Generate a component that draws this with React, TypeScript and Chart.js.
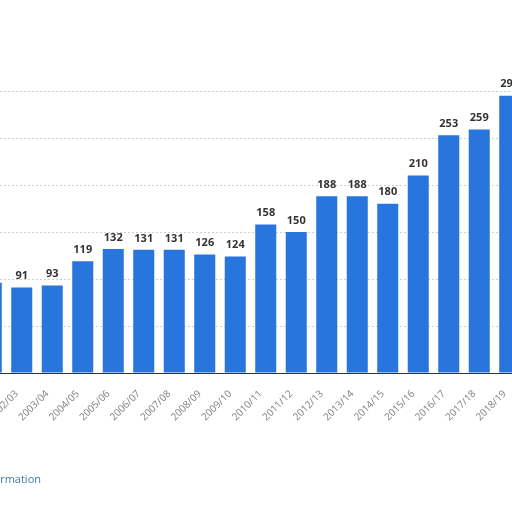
import React, { useEffect, useRef } from 'react';
import { Chart, registerables } from 'chart.js';

Chart.register(...registerables);

// Seasons shown on the x axis (first and last bars are partly cut off)
const seasons = [
  '2001/02', '2002/03', '2003/04', '2004/05', '2005/06', '2006/07',
  '2007/08', '2008/09', '2009/10', '2010/11', '2011/12', '2012/13',
  '2013/14', '2014/15', '2015/16', '2016/17', '2017/18', '2018/19',
];
const values = [96, 91, 93, 119, 132, 131, 131, 126, 124, 158, 150, 188, 188, 180, 210, 253, 259, 295];
const yTicks = [0, 50, 100, 150, 200, 250, 300];

const BAR_BLUE = '#2876dd';

// draws the value above each bar
const valueLabels = {
  id: 'valueLabels',
  afterDatasetsDraw(chart: Chart) {
    const ctx = chart.ctx;
    const meta = chart.getDatasetMeta(0);
    ctx.save();
    ctx.font = 'bold 11px "Open Sans", sans-serif';
    ctx.fillStyle = '#333333';
    ctx.textAlign = 'center';
    ctx.textBaseline = 'bottom';
    meta.data.forEach((bar: any, i: number) => {
      ctx.fillText(String(values[i]), bar.x, bar.y - 6);
    });
    ctx.restore();
  },
};

const App: React.FC = () => {
  const canvasRef = useRef<HTMLCanvasElement>(null);
  const chartRef = useRef<Chart | null>(null);

  useEffect(() => {
    if (!canvasRef.current) return;
    if (chartRef.current) chartRef.current.destroy();

    chartRef.current = new Chart(canvasRef.current, {
      type: 'bar',
      data: {
        labels: seasons,
        datasets: [{
          data: values,
          backgroundColor: BAR_BLUE,
          barPercentage: 0.69,
          categoryPercentage: 1,
        }],
      },
      options: {
        responsive: true,
        maintainAspectRatio: false,
        animation: false,
        layout: { padding: { left: 36, right: 35, top: 91, bottom: 79 } },
        plugins: {
          legend: { display: false },
          tooltip: { enabled: false },
        },
        scales: {
          x: {
            grid: { display: false, drawTicks: false },
            border: { display: true, color: '#333333', width: 1 },
            ticks: {
              color: '#808080',
              font: { family: '"Open Sans", sans-serif', size: 10 },
              minRotation: 45,
              maxRotation: 45,
              autoSkip: false,
              padding: 15,
              labelOffset: -5,
            },
            afterFit: (scale: any) => { scale.height = 60; },
          },
          y: {
            min: yTicks[0],
            max: yTicks[yTicks.length - 1],
            afterBuildTicks: (scale: any) => {
              scale.ticks = yTicks.map(v => ({ value: v }));
            },
            ticks: { display: false },
            grid: { color: '#cfcfcf', drawTicks: false },
            border: { display: false, dash: [2, 2] },
            afterFit: (scale: any) => { scale.width = 0; },
          },
        },
      },
      plugins: [valueLabels],
    });

    return () => {
      if (chartRef.current) {
        chartRef.current.destroy();
        chartRef.current = null;
      }
    };
  }, []);

  return (
    <div style={{ position: 'fixed', left: 0, top: 0, width: 512, height: 512, overflow: 'hidden', background: '#ffffff' }}>
      <div style={{ position: 'absolute', left: -60, top: 0, width: 620, height: 512 }}>
        <canvas ref={canvasRef}></canvas>
      </div>
      <div
        style={{
          position: 'absolute',
          right: 471,
          top: 471,
          whiteSpace: 'nowrap',
          font: '11px "Open Sans", sans-serif',
          lineHeight: '16px',
          color: '#3b7ab0',
        }}
      >
        Additional Information
      </div>
    </div>
  );
};

export default App;
